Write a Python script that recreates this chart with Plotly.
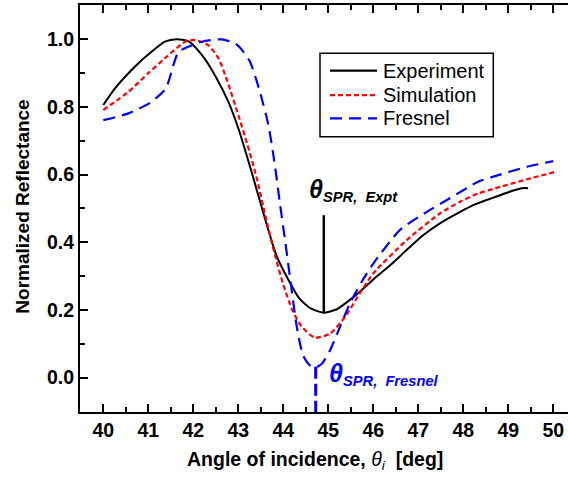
import plotly.graph_objects as go

# ---- data ----
exp_x = [40.0, 40.26, 40.7, 41.07, 41.37, 41.63, 41.89, 42.19, 42.48, 42.78, 43.0, 43.3, 43.56,
         43.85, 44.13, 44.35, 44.6, 44.89, 45.19, 45.5, 45.75, 46.0, 46.4, 46.74, 47.1, 47.48, 47.93, 48.22,
         48.67, 49.11, 49.3, 49.44]
exp_y = [0.806, 0.855, 0.919, 0.963, 0.993, 1.0, 0.995, 0.954, 0.894, 0.815, 0.737, 0.606, 0.485,
         0.36, 0.285, 0.235, 0.205, 0.192, 0.202, 0.232, 0.26, 0.29, 0.335, 0.377, 0.42, 0.456, 0.49, 0.51,
         0.532, 0.553, 0.56, 0.56]

sim_x = [40.0, 40.56, 41.0, 41.37, 41.82, 42.04, 42.33, 42.56, 42.76, 43.0, 43.2, 43.4, 43.6, 43.8,
         44.0, 44.2, 44.4, 44.70, 45.04, 45.37, 45.7, 46.0, 46.74, 47.48, 47.93, 48.33, 48.67, 49.41, 50.04]
sim_y = [0.791, 0.845, 0.9, 0.944, 0.993, 0.998, 0.983, 0.944, 0.875, 0.776, 0.69, 0.595, 0.48, 0.37,
         0.275, 0.2, 0.152, 0.118, 0.13, 0.179, 0.249, 0.308, 0.406, 0.485, 0.52, 0.544, 0.558, 0.586, 0.608]

fre_x = [40.0, 40.56, 41.07, 41.39, 41.56, 41.67, 41.89, 42.19, 42.63, 42.93, 43.04, 43.26, 43.48, 43.67,
         43.8, 43.93, 44.04, 44.15, 44.3, 44.44, 44.6, 44.72, 44.85, 45.04, 45.26, 45.48, 45.75, 46.0,
         46.59, 47.19, 47.7, 48.33, 48.67, 49.41, 50.0]
fre_y = [0.761, 0.781, 0.815, 0.855, 0.925, 0.963, 0.978, 0.993, 1.0, 0.988, 0.975, 0.934, 0.845, 0.746,
         0.64, 0.51, 0.405, 0.295, 0.15, 0.065, 0.035, 0.03, 0.04, 0.081, 0.15, 0.219, 0.285, 0.337,
         0.436, 0.49, 0.53, 0.579, 0.594, 0.623, 0.64]

series_names = ["Experiment", "Simulation", "Fresnel"]
series_colors = ["black", "#ff0000", "#0000ff"]
series_dash = ["solid", "5px,3px", "12px,7px"]

expt_marker_x = 44.9
expt_marker_y = [0.192, 0.48]
fresnel_marker_x = 44.72
fresnel_marker_y = [0.032, -0.102]

x_ticks = [40, 41, 42, 43, 44, 45, 46, 47, 48, 49, 50]
y_ticks = [0.0, 0.2, 0.4, 0.6, 0.8, 1.0]

FONT = "Liberation Sans, Arial, sans-serif"

# pixel -> paper helpers for the plot box (l=80, r=568, t=5, b=411.7)
def px(xp):
    return (xp - 80) / 488.0

def py(yp):
    return (411.7 - yp) / 406.7

fig = go.Figure()
for xs, ys, nm, col, dsh, w in [(exp_x, exp_y, series_names[0], series_colors[0], series_dash[0], 2),
                                (sim_x, sim_y, series_names[1], series_colors[1], series_dash[1], 2.2),
                                (fre_x, fre_y, series_names[2], series_colors[2], series_dash[2], 2.2)]:
    fig.add_trace(go.Scatter(x=xs, y=ys, mode="lines", name=nm, showlegend=False,
                             line=dict(color=col, width=w, dash=dsh, shape="spline", smoothing=0.6)))

# marker lines
fig.add_trace(go.Scatter(x=[expt_marker_x, expt_marker_x], y=expt_marker_y, mode="lines",
                         showlegend=False, line=dict(color="black", width=2.5)))
fig.add_trace(go.Scatter(x=[fresnel_marker_x, fresnel_marker_x], y=fresnel_marker_y, mode="lines",
                         showlegend=False, line=dict(color="#0000ff", width=3, dash="12px,5px")))

fig.add_annotation(x=44.52, y=0.505, xref="x", yref="y", xanchor="left", yanchor="bottom",
                   text="<b><i><span style='font-size:25px'>θ</span></i></b><sub><b><i>SPR,  Expt</i></b></sub>",
                   showarrow=False, font=dict(family=FONT, size=21, color="black"))
fig.add_annotation(x=44.97, y=0.012, xref="x", yref="y", xanchor="left", yanchor="middle",
                   text="<b><i><span style='font-size:25px'>θ</span></i></b><sub><b><i>SPR,  Fresnel</i></b></sub>",
                   showarrow=False, font=dict(family=FONT, size=21, color="#0000ff"))

# legend (box, samples and labels)
fig.add_shape(type="rect", xref="paper", yref="paper", x0=px(320), x1=px(493.3), y0=py(53.3), y1=py(136.7),
              line=dict(color="black", width=1.5), fillcolor="white", layer="above")
for i, (nm, col, dsh) in enumerate(zip(series_names, series_colors, series_dash)):
    yy = [70.5, 95, 118.3][i]
    fig.add_shape(type="line", xref="paper", yref="paper", x0=px(330), x1=px(377), y0=py(yy), y1=py(yy),
                  line=dict(color=col, width=2.2, dash=dsh), layer="above")
    fig.add_annotation(x=px(381), y=py(yy), xref="paper", yref="paper", xanchor="left", yanchor="middle",
                       text=nm, showarrow=False, font=dict(family=FONT, size=20, color="black"))

# axis titles
fig.add_annotation(x=px(315), y=-0.119, xref="paper", yref="paper", xanchor="center",
                   yanchor="middle", showarrow=False,
                   text="<b>Angle of incidence, </b><i>θ</i><sub><i>i</i></sub><b>  [deg]</b>",
                   font=dict(family=FONT, size=19.5, color="black"))
fig.add_annotation(x=px(23), y=0.5045, xref="paper", yref="paper", xanchor="center",
                   yanchor="middle", showarrow=False, textangle=-90,
                   text="<b>Normalized Reflectance</b>",
                   font=dict(family=FONT, size=19, color="black"))

fig.update_layout(
    width=568, height=477,
    margin=dict(l=80, r=0, t=5, b=65),
    plot_bgcolor="white", paper_bgcolor="white",
    font=dict(family=FONT, size=18, color="black"),
    showlegend=False,
)
fig.update_xaxes(
    range=[39.482, 50.327], tickvals=x_ticks, ticktext=[str(v) for v in x_ticks],
    showline=True, linecolor="black", linewidth=2, mirror="ticks",
    ticks="inside", ticklen=8, tickwidth=2, tickcolor="black",
    minor=dict(dtick=0.5, ticks="inside", ticklen=5, tickwidth=1.5, tickcolor="black"),
    showgrid=False, zeroline=False,
    tickfont=dict(family=FONT, size=19.5, color="black", weight="bold"),
)
fig.update_yaxes(
    range=[-0.1018, 1.1015], tickvals=y_ticks, ticktext=["%.1f" % v for v in y_ticks],
    showline=True, linecolor="black", linewidth=2, mirror=False,
    ticks="inside", ticklen=8, tickwidth=2, tickcolor="black",
    minor=dict(dtick=0.1, ticks="inside", ticklen=5, tickwidth=1.5, tickcolor="black"),
    showgrid=False, zeroline=False,
    tickfont=dict(family=FONT, size=19.5, color="black", weight="bold"),
)

fig.write_html("out.html")
